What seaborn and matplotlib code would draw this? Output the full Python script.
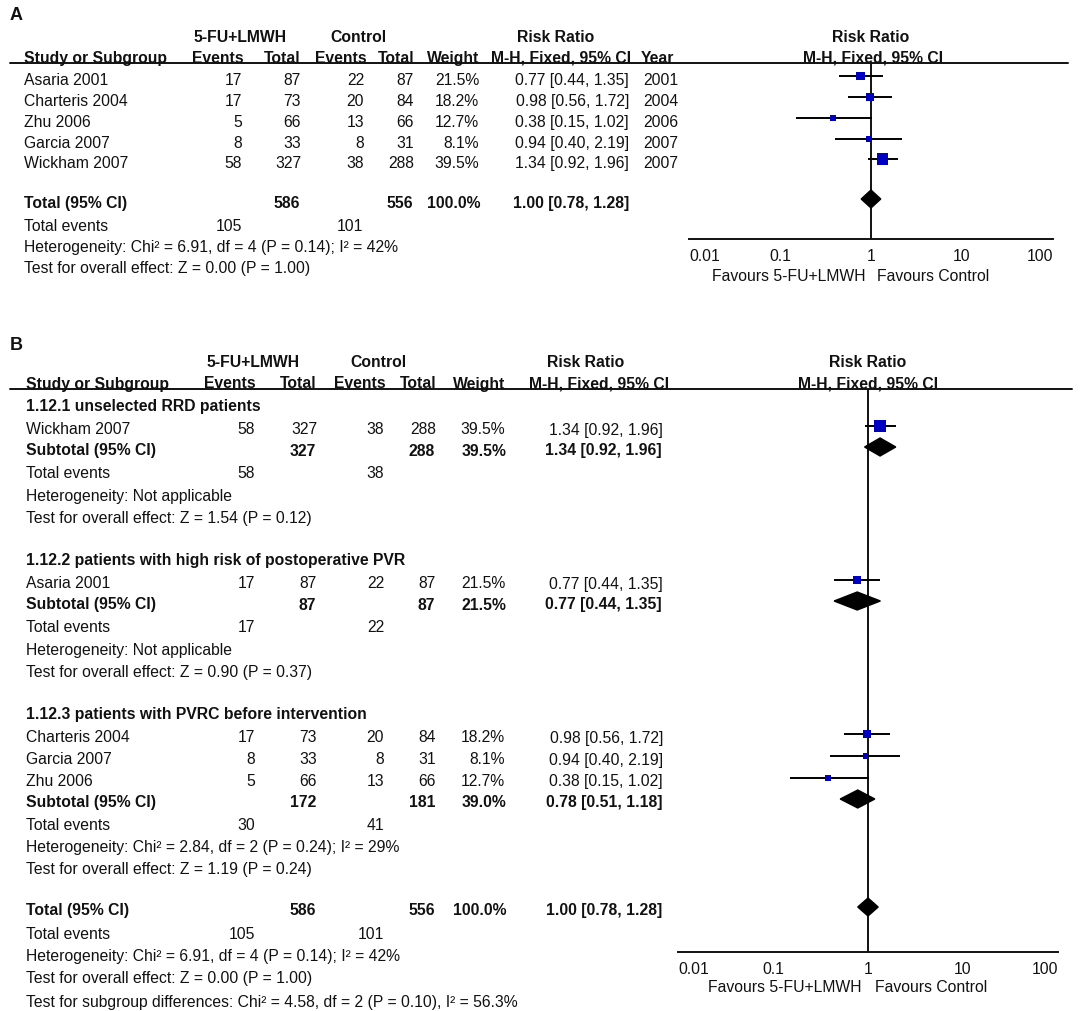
import seaborn as sns
import matplotlib.pyplot as plt
from matplotlib.patches import Polygon
import pandas as pd
import numpy as np

sns.set_style("white")
plt.rcParams['font.family'] = ['Liberation Sans', 'DejaVu Sans']

# ---- data ----
studies = ["Asaria 2001", "Charteris 2004", "Zhu 2006", "Garcia 2007", "Wickham 2007"]
ev_trt = [17, 17, 5, 8, 58]
n_trt = [87, 73, 66, 33, 327]
ev_ctl = [22, 20, 13, 8, 38]
n_ctl = [87, 84, 66, 31, 288]
weight = [21.5, 18.2, 12.7, 8.1, 39.5]
rr = [0.77, 0.98, 0.38, 0.94, 1.34]
rr_lo = [0.44, 0.56, 0.15, 0.40, 0.92]
rr_hi = [1.35, 1.72, 1.02, 2.19, 1.96]
year = [2001, 2004, 2006, 2007, 2007]

total_n = [586, 556]
total_events = [105, 101]
total_rr = [1.00, 0.78, 1.28]
total_het = "Heterogeneity: Chi² = 6.91, df = 4 (P = 0.14); I² = 42%"
total_test = "Test for overall effect: Z = 0.00 (P = 1.00)"
subgroup_test = "Test for subgroup differences: Chi² = 4.58, df = 2 (P = 0.10), I² = 56.3%"

sub_titles = ["1.12.1 unselected RRD patients",
              "1.12.2 patients with high risk of postoperative PVR",
              "1.12.3 patients with PVRC before intervention"]
sub_members = [["Wickham 2007"], ["Asaria 2001"], ["Charteris 2004", "Garcia 2007", "Zhu 2006"]]
sub_n = [[327, 288], [87, 87], [172, 181]]
sub_weight = [39.5, 21.5, 39.0]
sub_rr = [[1.34, 0.92, 1.96], [0.77, 0.44, 1.35], [0.78, 0.51, 1.18]]
sub_events = [[58, 38], [17, 22], [30, 41]]
sub_het = ["Heterogeneity: Not applicable", "Heterogeneity: Not applicable",
           "Heterogeneity: Chi² = 2.84, df = 2 (P = 0.24); I² = 29%"]
sub_test = ["Test for overall effect: Z = 1.54 (P = 0.12)",
            "Test for overall effect: Z = 0.90 (P = 0.37)",
            "Test for overall effect: Z = 1.19 (P = 0.24)"]

df = pd.DataFrame({"study": studies, "ev_t": ev_trt, "n_t": n_trt, "ev_c": ev_ctl,
                   "n_c": n_ctl, "w": weight, "rr": rr, "lo": rr_lo, "hi": rr_hi,
                   "year": year})

# ---- figure: 1084 x 1012 px ----
W, H = 1084, 1012
fig = plt.figure(figsize=(W / 100, H / 100), dpi=100)
page = fig.add_axes([0, 0, 1, 1])
page.set_xlim(0, W)
page.set_ylim(H, 0)
page.axis("off")

FS = 11.3
DY = 3          # text centre offset relative to marker row
LW = 1.4
BLUE = "#0000C0"


def put(x, y, s, ha="left", bold=False, size=FS):
    page.text(x, y + DY, s, ha=ha, va="center", fontsize=size,
              fontweight="bold" if bold else "normal", color="#111111")


def fmt_rr(e, lo, hi):
    return f"{e:.2f} [{lo:.2f}, {hi:.2f}]"


def forest_axes(x0, x1, ytop, ybot):
    ax = fig.add_axes([x0 / W, (H - ybot) / H, (x1 - x0) / W, (ybot - ytop) / H])
    ax.set_xscale("log")
    ax.set_xlim(0.01, 100)
    ax.set_ylim(ybot, ytop)
    ax.patch.set_alpha(0)
    for s in ["left", "right", "top"]:
        ax.spines[s].set_visible(False)
    ax.spines["bottom"].set_linewidth(LW)
    ax.spines["bottom"].set_color("#111111")
    ax.set_xticks([0.01, 0.1, 1, 10, 100])
    ax.set_xticklabels(["0.01", "0.1", "1", "10", "100"])
    ax.minorticks_off()
    ax.tick_params(axis="x", direction="inout", length=9, width=LW, labelsize=FS,
                   pad=2, colors="#111111")
    ax.set_yticks([])
    labs = ax.get_xticklabels()
    labs[0].set_ha("left")
    labs[-1].set_ha("right")
    ax.axvline(1, color="#111111", lw=LW, zorder=1)
    return ax


def draw_study(ax, d, ys):
    ax.hlines(ys, d["lo"], d["hi"], color="black", lw=LW, zorder=2)
    sns.scatterplot(x=d["rr"].values, y=ys, size=d["w"].values, sizes=(0, 170),
                    size_norm=(0, 100), marker="s", color=BLUE, linewidth=0,
                    legend=False, ax=ax, zorder=3)
    ax.set_xlabel("")
    ax.set_ylabel("")


def diamond(ax, y, e, lo, hi, h=9):
    ax.add_patch(Polygon([(lo, y), (e, y - h), (hi, y), (e, y + h)],
                         closed=True, color="black", zorder=3))


# ================= Panel A =================
put(10, 12, "A", bold=True, size=13)
put(240, 34, "5-FU+LMWH", ha="center", bold=True)
put(358, 34, "Control", ha="center", bold=True)
put(556, 34, "Risk Ratio", ha="center", bold=True)
put(871, 34, "Risk Ratio", ha="center", bold=True)
put(24, 55, "Study or Subgroup", bold=True)
put(218, 55, "Events", ha="center", bold=True)
put(301, 55, "Total", ha="right", bold=True)
put(341, 55, "Events", ha="center", bold=True)
put(414, 55, "Total", ha="right", bold=True)
put(479, 55, "Weight", ha="right", bold=True)
put(561, 55, "M-H, Fixed, 95% CI", ha="center", bold=True)
put(641, 55, "Year", bold=True)
put(873, 55, "M-H, Fixed, 95% CI", ha="center", bold=True)
page.plot([10, 1068], [64, 64], color="#111111", lw=LW)

rows_a = [77, 98, 119, 140, 160]
for y, r in zip(rows_a, df.itertuples()):
    put(24, y, r.study)
    put(242, y, str(r.ev_t), ha="right")
    put(301, y, str(r.n_t), ha="right")
    put(364, y, str(r.ev_c), ha="right")
    put(414, y, str(r.n_c), ha="right")
    put(479, y, f"{r.w:.1f}%", ha="right")
    put(629, y, fmt_rr(r.rr, r.lo, r.hi), ha="right")
    put(643, y, str(r.year))

y_tot_a = 200
put(24, y_tot_a, "Total (95% CI)", bold=True)
put(300, y_tot_a, str(total_n[0]), ha="right", bold=True)
put(413, y_tot_a, str(total_n[1]), ha="right", bold=True)
put(480, y_tot_a, "100.0%", ha="right", bold=True)
put(629, y_tot_a, fmt_rr(*total_rr), ha="right", bold=True)
put(24, 223, "Total events")
put(242, 223, str(total_events[0]), ha="right")
put(363, 223, str(total_events[1]), ha="right")
put(24, 244, total_het)
put(24, 265, total_test)

axA = forest_axes(689, 1053, 64, 240)
draw_study(axA, df, np.array(rows_a))
diamond(axA, y_tot_a, *total_rr, h=9)
put(865, 273, "Favours 5-FU+LMWH", ha="right")
put(877, 273, "Favours Control")

# ================= Panel B =================
put(10, 342, "B", bold=True, size=13)
put(253, 359, "5-FU+LMWH", ha="center", bold=True)
put(378, 359, "Control", ha="center", bold=True)
put(586, 359, "Risk Ratio", ha="center", bold=True)
put(868, 359, "Risk Ratio", ha="center", bold=True)
put(26, 381, "Study or Subgroup", bold=True)
put(230, 381, "Events", ha="center", bold=True)
put(317, 381, "Total", ha="right", bold=True)
put(360, 381, "Events", ha="center", bold=True)
put(436, 381, "Total", ha="right", bold=True)
put(505, 381, "Weight", ha="right", bold=True)
put(599, 381, "M-H, Fixed, 95% CI", ha="center", bold=True)
put(868, 381, "M-H, Fixed, 95% CI", ha="center", bold=True)
page.plot([10, 1072], [390, 390], color="#111111", lw=LW)

axB = forest_axes(678, 1058, 390, 953)

sub_header_y = [403, 557, 711]
by_name = df.set_index("study")
for g in range(3):
    y = sub_header_y[g]
    put(26, y, sub_titles[g], bold=True)
    ys = [y + 24 + 22 * i for i in range(len(sub_members[g]))]
    d = by_name.loc[sub_members[g]].reset_index()
    for yy, r in zip(ys, d.itertuples()):
        put(26, yy, r.study)
        put(255, yy, str(r.ev_t), ha="right")
        put(317, yy, str(r.n_t), ha="right")
        put(384, yy, str(r.ev_c), ha="right")
        put(436, yy, str(r.n_c), ha="right")
        put(505, yy, f"{r.w:.1f}%", ha="right")
        put(663, yy, fmt_rr(r.rr, r.lo, r.hi), ha="right")
    draw_study(axB, d, np.array(ys))
    ys_sub = ys[-1] + 21
    put(26, ys_sub, "Subtotal (95% CI)", bold=True)
    put(316, ys_sub, str(sub_n[g][0]), ha="right", bold=True)
    put(435, ys_sub, str(sub_n[g][1]), ha="right", bold=True)
    put(506, ys_sub, f"{sub_weight[g]:.1f}%", ha="right", bold=True)
    put(662, ys_sub, fmt_rr(*sub_rr[g]), ha="right", bold=True)
    diamond(axB, ys_sub, *sub_rr[g], h=9)
    put(26, ys_sub + 23, "Total events")
    put(255, ys_sub + 23, str(sub_events[g][0]), ha="right")
    put(384, ys_sub + 23, str(sub_events[g][1]), ha="right")
    put(26, ys_sub + 45, sub_het[g])
    put(26, ys_sub + 67, sub_test[g])

y_tot_b = 908
put(26, y_tot_b, "Total (95% CI)", bold=True)
put(316, y_tot_b, str(total_n[0]), ha="right", bold=True)
put(435, y_tot_b, str(total_n[1]), ha="right", bold=True)
put(506, y_tot_b, "100.0%", ha="right", bold=True)
put(662, y_tot_b, fmt_rr(*total_rr), ha="right", bold=True)
diamond(axB, y_tot_b, *total_rr, h=9)
put(26, 932, "Total events")
put(255, 932, str(total_events[0]), ha="right")
put(384, 932, str(total_events[1]), ha="right")
put(26, 954, total_het)
put(26, 976, total_test)
put(26, 1000, subgroup_test)
put(861, 985, "Favours 5-FU+LMWH", ha="right")
put(875, 985, "Favours Control")

fig.savefig("out.png", dpi=100)
plt.close(fig)
